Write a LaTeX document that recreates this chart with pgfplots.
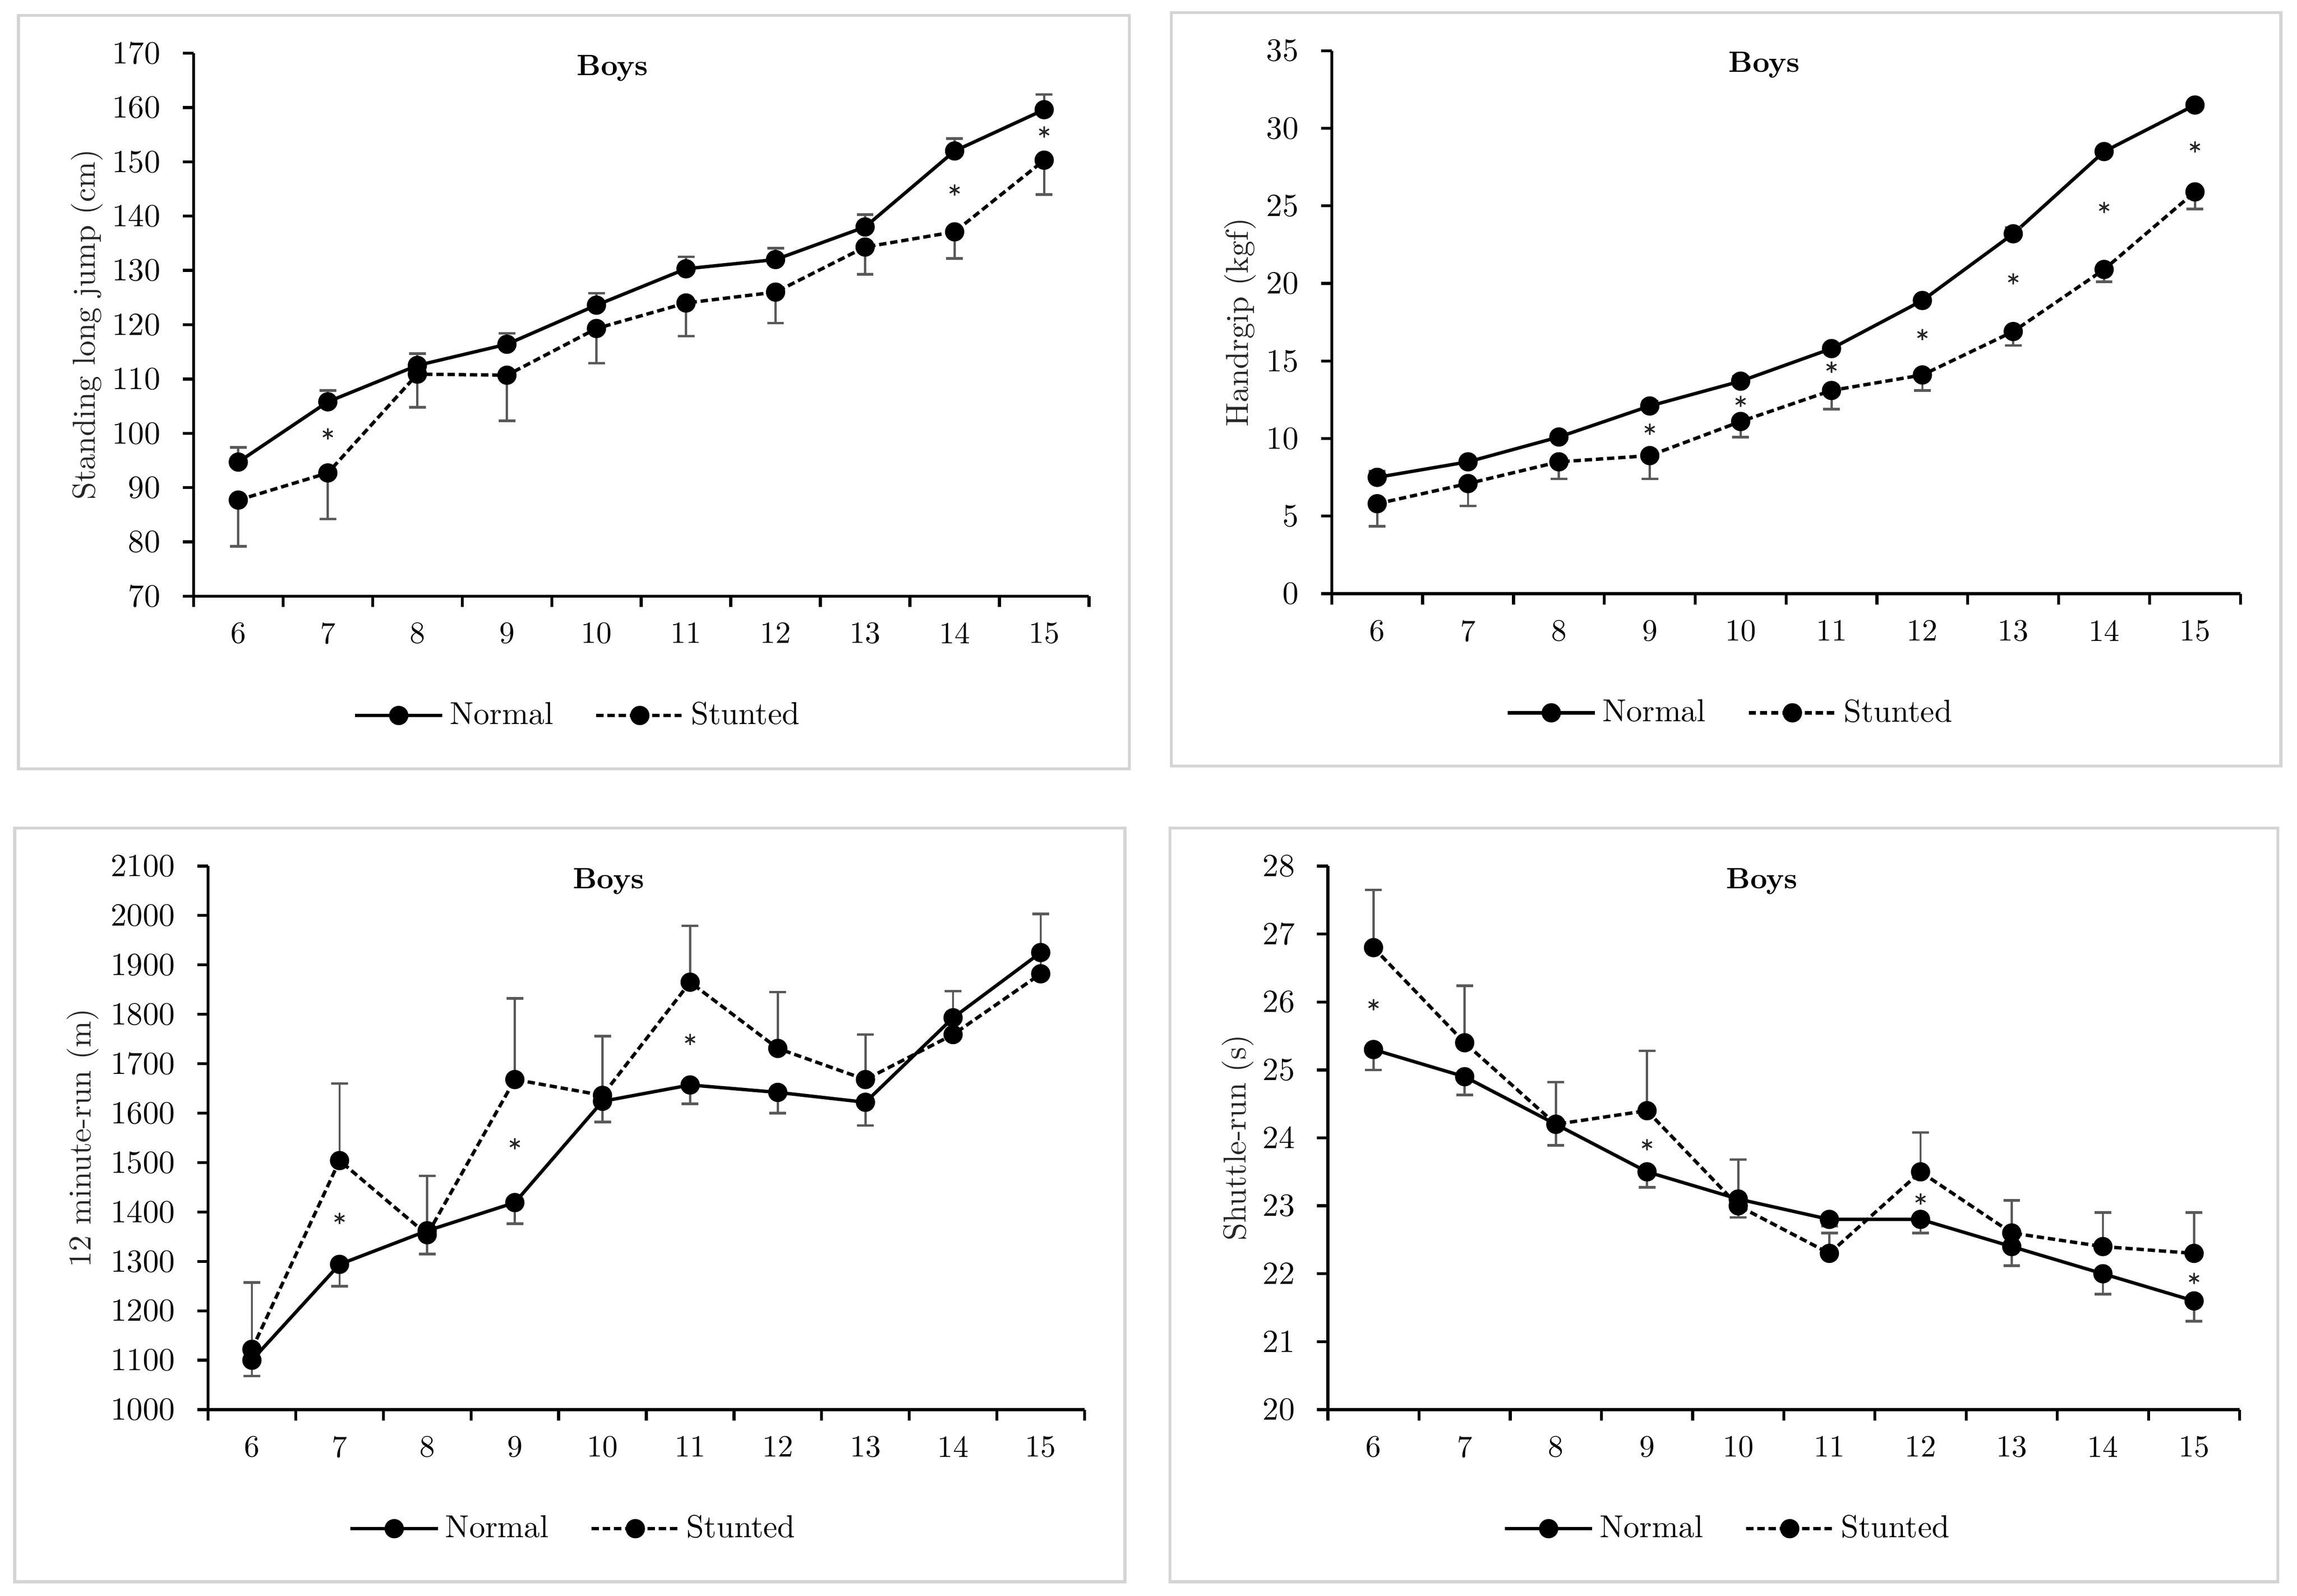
\documentclass[border=0pt]{standalone}
\usepackage{pgfplots}
\pgfplotsset{compat=1.18}
\usetikzlibrary{plotmarks}
\newcommand\tickfont{\fontsize{10.5}{12.6}\selectfont}
\newcommand\labfont{\fontsize{10.8}{13}\selectfont}
\pgfplotsset{
  boysaxis/.style={
    scale only axis,
    anchor=south west,
    clip=false,
    axis lines*=left,
    axis line style={line width=1pt, black},
    tick align=outside,
    major tick length=3.7pt,
    tick style={line width=1pt, black},
    xmin=5.5, xmax=15.5,
    xtick={5.5,6.5,...,15.5},
    xticklabels={,,,,,,,,,,,},
    extra x ticks={6,7,8,9,10,11,12,13,14,15},
    extra x tick labels={6,7,8,9,10,11,12,13,14,15},
    extra x tick style={major tick length=0pt},
    /pgf/number format/1000 sep={},
    ticklabel style={font=\tickfont, black},
    yticklabel style={xshift=-4pt},
    xticklabel style={yshift=-5.5pt},
    every axis y label/.style={rotate=90, anchor=center, font=\labfont, black!85},
    every axis title/.style={anchor=center, font=\fontsize{10}{12}\selectfont\bfseries},
    legend columns=2,
    legend style={draw=none, fill=none, anchor=center, font=\labfont,
      /tikz/every even column/.append style={column sep=12pt}},
    error bars/error bar style={line width=0.75pt, black!65, solid},
    error bars/error mark options={rotate=90, line width=0.9pt, mark size=2.85pt, black!65, solid},
  },
  normal/.style={black, line width=1.15pt, solid, mark=*, mark size=2.7pt,
    mark options={solid, fill=black},
    legend image code/.code={\draw[mark repeat=2,mark phase=2,##1] plot coordinates {(0pt,0pt) (14.85pt,0pt) (29.7pt,0pt)};}},
  stunted/.style={black, line width=1.15pt, dash pattern=on 2.5pt off 1.3pt, mark=*, mark size=2.7pt,
    mark options={solid, fill=black},
    legend image code/.code={\draw[mark repeat=2,mark phase=2,##1] plot coordinates {(0pt,0pt) (14.85pt,0pt) (29.7pt,0pt)};}},
  stars/.style={only marks, mark=asterisk, mark size=1.9pt, black!85,
    mark options={line width=0.55pt, solid}, forget plot},
}
\begin{document}
\begin{tikzpicture}
\useasboundingbox (0,0) rectangle (781pt,542.5pt);
\draw[black!17, line width=1pt] (6.25pt,281.15pt) rectangle (384pt,537.3pt);
\draw[black!17, line width=1pt] (398.25pt,282pt) rectangle (775.5pt,538.2pt);
\draw[black!17, line width=1pt] (5pt,4.75pt) rectangle (382.5pt,261pt);
\draw[black!17, line width=1pt] (397.75pt,4.75pt) rectangle (774.5pt,261pt);

% Panel 1: standing long jump
\begin{axis}[boysaxis, at={(65.8pt,339.8pt)}, width=304.45pt, height=184.6pt,
  ymin=70, ymax=170, ytick={70,80,...,170},
  ylabel={Standing long jump (cm)}, ylabel style={at={(axis description cs:-0.119,0.5)}},
  title={Boys}, title style={at={(axis description cs:0.468,0.972)}},
  legend style={at={(axis description cs:0.431,-0.2197)}}]
\addplot[normal, error bars/.cd, y dir=plus, y explicit] coordinates {
 (6,94.7) +- (0,2.7) (7,105.8) +- (0,2.1) (8,112.5) +- (0,2.2) (9,116.4) +- (0,2.0)
 (10,123.6) +- (0,2.2) (11,130.3) +- (0,2.2) (12,132.0) +- (0,2.1) (13,138.0) +- (0,2.3)
 (14,152.0) +- (0,2.3) (15,159.6) +- (0,2.8)};
\addlegendentry{Normal}
\addplot[stunted, error bars/.cd, y dir=minus, y explicit] coordinates {
 (6,87.7) +- (0,8.5) (7,92.7) +- (0,8.5) (8,110.9) +- (0,6.1) (9,110.7) +- (0,8.4)
 (10,119.3) +- (0,6.4) (11,124.0) +- (0,6.1) (12,126.0) +- (0,5.7) (13,134.3) +- (0,5.0)
 (14,137.1) +- (0,4.9) (15,150.3) +- (0,6.3)};
\addlegendentry{Stunted}
\addplot[stars] coordinates {(7,99.9) (14,144.8) (15,155.5)};
\end{axis}

% Panel 2: handgrip
\begin{axis}[boysaxis, at={(452.8pt,340.65pt)}, width=308.95pt, height=184.6pt,
  ymin=0, ymax=35, ytick={0,5,...,35},
  ylabel={Handrgip (kgf)}, ylabel style={at={(axis description cs:-0.101,0.5)}},
  title={Boys}, title style={at={(axis description cs:0.476,0.974)}},
  legend style={at={(axis description cs:0.4405,-0.2194)}}]
\addplot[normal, error bars/.cd, y dir=plus, y explicit] coordinates {
 (6,7.5) +- (0,0.4) (7,8.5) +- (0,0.2) (8,10.1) +- (0,0.2) (9,12.1) +- (0,0.3)
 (10,13.7) +- (0,0.3) (11,15.8) +- (0,0.2) (12,18.9) +- (0,0.2) (13,23.2) +- (0,0.4)
 (14,28.5) +- (0,0.2) (15,31.5) +- (0,0.2)};
\addlegendentry{Normal}
\addplot[stunted, error bars/.cd, y dir=minus, y explicit] coordinates {
 (6,5.8) +- (0,1.45) (7,7.1) +- (0,1.44) (8,8.5) +- (0,1.1) (9,8.9) +- (0,1.5)
 (10,11.1) +- (0,1.0) (11,13.1) +- (0,1.2) (12,14.1) +- (0,1.0) (13,16.9) +- (0,0.9)
 (14,20.9) +- (0,0.8) (15,25.9) +- (0,1.1)};
\addlegendentry{Stunted}
\addplot[stars] coordinates {(9,10.6) (10,12.4) (11,14.6) (12,16.7) (13,20.3) (14,24.9) (15,28.8)};
\end{axis}

% Panel 3: 12 minute run
\begin{axis}[boysaxis, at={(70.75pt,63.25pt)}, width=298pt, height=184.8pt,
  ymin=1000, ymax=2100, ytick={1000,1100,...,2100},
  ylabel={12 minute-run (m)}, ylabel style={at={(axis description cs:-0.143,0.5)}},
  title={Boys}, title style={at={(axis description cs:0.457,0.9716)}},
  legend style={at={(axis description cs:0.4186,-0.219)}}]
\addplot[normal, error bars/.cd, y dir=minus, y explicit] coordinates {
 (6,1100) +- (0,32) (7,1294) +- (0,44) (8,1362) +- (0,47) (9,1419) +- (0,43)
 (10,1624) +- (0,42) (11,1657) +- (0,38) (12,1642) +- (0,42) (13,1622) +- (0,47)
 (14,1793) +- (0,0) (15,1925) +- (0,0)};
\addlegendentry{Normal}
\addplot[stunted, error bars/.cd, y dir=plus, y explicit] coordinates {
 (6,1122) +- (0,135) (7,1504) +- (0,156) (8,1354) +- (0,119) (9,1668) +- (0,164)
 (10,1636) +- (0,120) (11,1865) +- (0,114) (12,1731) +- (0,114) (13,1668) +- (0,91)
 (14,1759) +- (0,88) (15,1882) +- (0,121)};
\addlegendentry{Stunted}
\addplot[stars] coordinates {(7,1387) (9,1538) (11,1749)};
\end{axis}

% Panel 4: shuttle run
\begin{axis}[boysaxis, at={(451.5pt,63.25pt)}, width=310pt, height=184.8pt,
  ymin=20, ymax=28, ytick={20,21,...,28},
  ylabel={Shuttle-run (s)}, ylabel style={at={(axis description cs:-0.099,0.5)}},
  title={Boys}, title style={at={(axis description cs:0.476,0.9716)}},
  legend style={at={(axis description cs:0.4403,-0.219)}}]
\addplot[normal, error bars/.cd, y dir=minus, y explicit] coordinates {
 (6,25.3) +- (0,0.3) (7,24.9) +- (0,0.27) (8,24.2) +- (0,0.31) (9,23.5) +- (0,0.23)
 (10,23.1) +- (0,0.27) (11,22.8) +- (0,0.1) (12,22.8) +- (0,0.2) (13,22.4) +- (0,0.28)
 (14,22.0) +- (0,0.3) (15,21.6) +- (0,0.3)};
\addlegendentry{Normal}
\addplot[stunted, error bars/.cd, y dir=plus, y explicit] coordinates {
 (6,26.8) +- (0,0.85) (7,25.4) +- (0,0.84) (8,24.2) +- (0,0.62) (9,24.4) +- (0,0.88)
 (10,23.0) +- (0,0.68) (11,22.3) +- (0,0.3) (12,23.5) +- (0,0.58) (13,22.6) +- (0,0.48)
 (14,22.4) +- (0,0.5) (15,22.3) +- (0,0.6)};
\addlegendentry{Stunted}
\addplot[stars] coordinates {(6,25.96) (9,23.9) (12,23.1) (15,21.93)};
\end{axis}
\end{tikzpicture}
\end{document}
